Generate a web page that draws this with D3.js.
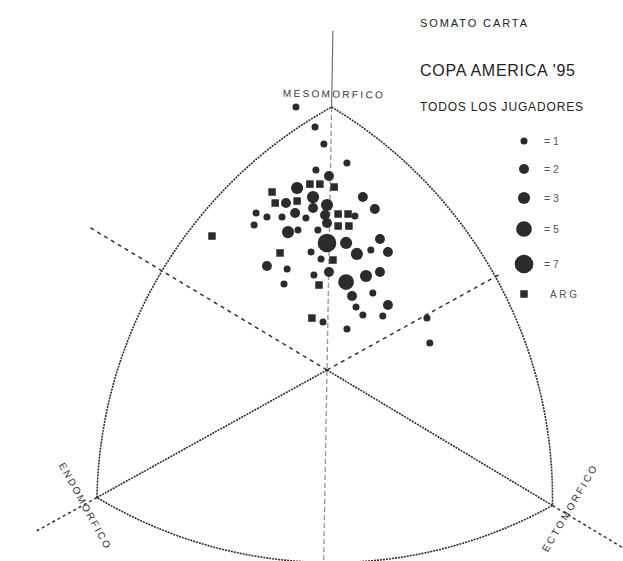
<!DOCTYPE html>
<html lang="es">
<head>
  <meta charset="UTF-8" />
  <title>Somatocarta - Copa America '95</title>
  <script src="https://d3js.org/d3.v7.min.js"></script>
  <style>
    body {
      margin: 0;
      background: #fff;
    }

    svg {
      display: block;
      font-family: "Liberation Sans", Arial, sans-serif;
    }
  </style>
</head>
<body>
  <div id="chart"></div>

  <script>
    const width = 623;
    const height = 561;

    // somatochart coordinates: X = ecto - endo, Y = 2*meso - (endo + ecto)
    const playerX = [-1.09, -0.42, -0.11, 0.70, -0.39, 0.07, -1.05, 1.26, -0.49, 0.00,
                     1.68, -1.44, -2.49, -2.11, -1.58, -1.12, -0.74, -0.49, -0.07, 0.98,
                     -2.56, -1.37, -1.02, -0.32, 0.00, 0.00, 0.67, 1.86, 2.14, -0.56,
                     1.05, 1.54, -2.11, -1.40, -0.21, 0.07, -0.46, 1.37, 1.86, -1.51,
                     0.67, 0.88, 1.61, 1.02, 2.14, 1.26, 1.96, -0.14, 0.70, 3.51, 3.61];
    const playerY = [16.0, 14.78, 13.75, 12.59, 12.17, 11.80, 11.07, 10.52, 10.52, 10.04,
                     9.79, 10.16, 9.55, 9.31, 9.31, 9.55, 9.25, 9.85, 9.43, 9.37,
                     8.82, 8.39, 8.52, 8.52, 8.94, 7.73, 7.73, 7.97, 7.18, 7.18,
                     7.06, 7.30, 6.33, 6.14, 6.75, 5.96, 5.78, 5.72, 5.96, 5.23,
                     5.35, 4.50, 4.68, 3.83, 3.95, 3.35, 3.28, 2.92, 2.49, 3.16, 1.64];
    const playerN = [1, 1, 1, 1, 1, 2, 3, 2, 3, 3,
                     2, 2, 1, 1, 1, 2, 1, 2, 2, 1,
                     1, 3, 1, 1, 2, 7, 3, 2, 2, 1,
                     3, 1, 2, 1, 1, 2, 1, 3, 2, 1,
                     5, 2, 1, 1, 2, 1, 1, 1, 1, 1, 1];

    // Argentine players (squares)
    const argX = [-4.04, -1.93, -0.60, -0.25, 0.25, -1.82, -1.05, 0.39, 0.74, 0.39,
                  0.77, 0.21, -1.65, -0.28, -0.53];
    const argY = [8.15, 10.83, 11.31, 11.31, 11.13, 10.16, 10.28, 9.49, 9.49, 8.76,
                  8.76, 6.69, 7.12, 5.17, 3.16];

    const legendCounts = [1, 2, 3, 5, 7];
    const legendY = [141, 169, 198, 229, 264];
    const titleLines = ["SOMATO CARTA", "COPA AMERICA '95", "TODOS LOS JUGADORES"];

    // vertices: meso, endo, ecto
    const vertices = [[0, 16], [-8, -8], [8, -8]];
    const vertexNames = ["MESOMORFICO", "ENDOMORFICO", "ECTOMORFICO"];

    const cx = 327, cy = 370, R = 263;
    const ink = "#2b2b2b";

    const svg = d3.select("#chart")
      .append("svg")
      .attr("width", width)
      .attr("height", height);

    const x = d3.scaleLinear().domain([-8, 8]).range([cx - R * Math.cos(Math.PI / 6), cx + R * Math.cos(Math.PI / 6)]);
    const y = d3.scaleLinear().domain([-8, 16]).range([cy + R / 2, cy - R]);
    const r = d3.scaleSqrt().domain([0, 7]).range([0, 9.3]);

    const at = (v, t) => [x(v[0] * t), y(v[1] * t)];
    const [meso, endo, ecto] = vertices;

    // the scanned sheet sits about a degree off
    const frame = svg.append("g").attr("transform", `rotate(1, ${cx}, ${cy})`);

    const seg = (v, t0, t1, stroke, sw, dash) => {
      const a = at(v, t0), b = at(v, t1);
      frame.append("line")
        .attr("x1", a[0]).attr("y1", a[1])
        .attr("x2", b[0]).attr("y2", b[1])
        .attr("stroke", stroke)
        .attr("stroke-width", sw)
        .attr("stroke-dasharray", dash);
    };

    // vertical meso axis
    seg(meso, 1, 1.29, "#666", 1.1, null);
    seg(meso, 1, -0.73, "#999", 1.4, "5,3");

    // endo / ecto axes and their dashed extensions
    seg(endo, 0, 1, ink, 1.6, "2,1");
    seg(ecto, 0, 1, ink, 1.6, "2,1");
    seg(endo, 1, 1.27, "#333", 1.5, "3,3");
    seg(endo, 0, -0.76, "#333", 1.5, "4,4");
    seg(ecto, 1, 1.4, "#333", 1.5, "3,3");
    seg(ecto, 0, -1.05, "#333", 1.5, "4,4");

    // Reuleaux outline, each arc centred on the opposite vertex
    const pm = at(meso, 1), pn = at(endo, 1), pc = at(ecto, 1);
    const side = Math.hypot(pc[0] - pn[0], pc[1] - pn[1]);
    frame.append("path")
      .attr("d", `M${pm} A${side},${side} 0 0 1 ${pc} A${side},${side} 0 0 1 ${pn} A${side},${side} 0 0 1 ${pm}Z`)
      .attr("fill", "none")
      .attr("stroke", ink)
      .attr("stroke-width", 1.6)
      .attr("stroke-dasharray", "2,1");

    // vertex labels
    const labelPos = [
      { p: [pm[0] + 1, pm[1] - 13], rot: 0, len: 100 },
      { p: [pn[0] - 12, pn[1] + 8], rot: 60, len: 96 },
      { p: [pc[0] + 17, pc[1] + 3], rot: -60.5, len: 98 }
    ];
    vertexNames.forEach((name, i) => {
      const L = labelPos[i];
      frame.append("text")
        .attr("transform", `translate(${L.p}) rotate(${L.rot})`)
        .attr("text-anchor", "middle")
        .attr("dy", "0.35em")
        .attr("font-size", 10)
        .attr("fill", "#333")
        .attr("textLength", L.len)
        .attr("lengthAdjust", "spacing")
        .text(name);
    });

    // players
    const players = playerX.map((v, i) => ({ x: v, y: playerY[i], n: playerN[i] }))
      .sort((a, b) => b.n - a.n);

    svg.append("g")
      .selectAll("circle")
      .data(players)
      .join("circle")
      .attr("cx", d => x(d.x))
      .attr("cy", d => y(d.y))
      .attr("r", d => r(d.n))
      .attr("fill", ink);

    const sq = 7.5;
    svg.append("g")
      .selectAll("rect")
      .data(argX.map((v, i) => ({ x: v, y: argY[i] })))
      .join("rect")
      .attr("x", d => x(d.x) - sq / 2)
      .attr("y", d => y(d.y) - sq / 2)
      .attr("width", sq)
      .attr("height", sq)
      .attr("fill", ink);

    // titles
    const titleSpec = [
      { y: 27, size: 11, len: 107 },
      { y: 76, size: 16, len: 155 },
      { y: 111, size: 12, len: 163 }
    ];
    titleLines.forEach((t, i) => {
      svg.append("text")
        .attr("x", 420)
        .attr("y", titleSpec[i].y)
        .attr("font-size", titleSpec[i].size)
        .attr("fill", "#222")
        .attr("textLength", titleSpec[i].len)
        .attr("lengthAdjust", "spacing")
        .text(t);
    });

    // legend
    const legend = svg.append("g");
    legendCounts.forEach((n, i) => {
      legend.append("circle")
        .attr("cx", 524)
        .attr("cy", legendY[i])
        .attr("r", r(n))
        .attr("fill", ink);
      legend.append("text")
        .attr("x", 544)
        .attr("y", legendY[i])
        .attr("dy", "0.35em")
        .attr("font-size", 10.5)
        .attr("fill", "#555")
        .text("= " + n);
    });
    legend.append("rect")
      .attr("x", 524 - sq / 2)
      .attr("y", 294 - sq / 2)
      .attr("width", sq)
      .attr("height", sq)
      .attr("fill", ink);
    legend.append("text")
      .attr("x", 550)
      .attr("y", 294)
      .attr("dy", "0.35em")
      .attr("font-size", 10)
      .attr("fill", "#555")
      .attr("textLength", 27)
      .attr("lengthAdjust", "spacing")
      .text("ARG");
  </script>
</body>
</html>
